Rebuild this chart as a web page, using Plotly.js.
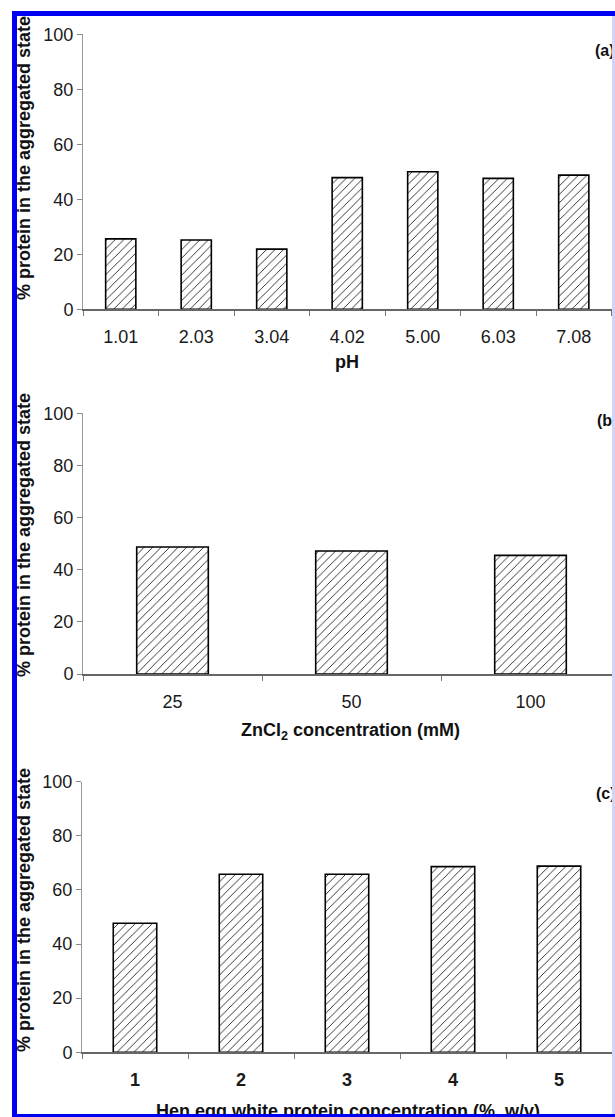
<!DOCTYPE html>
<html>
<head>
<meta charset="utf-8">
<script src="https://cdn.plot.ly/plotly-3.0.1.min.js"></script>
<style>
  html, body { margin: 0; padding: 0; background: #fff; }
  #wrap { position: relative; width: 615px; height: 1117px; overflow: hidden; }
  #chart { position: absolute; left: 0; top: 0; width: 615px; height: 1117px; }
  .bd { position: absolute; pointer-events: none; z-index: 10; }
</style>
</head>
<body>
<div id="wrap">
  <div id="chart"></div>
  <div class="bd" style="left:0;top:0;width:615px;height:11px;background:#fff;"></div>
  <div class="bd" style="left:0;top:0;width:12px;height:1117px;background:#fff;"></div>
  <div class="bd" style="left:12px;top:11px;width:603px;height:5px;background:#0000f0;"></div>
  <div class="bd" style="left:12px;top:11px;width:5px;height:1106px;background:#0000f0;"></div>
  <div class="bd" style="left:12px;top:1114px;width:603px;height:3px;background:#0000f0;"></div>
  <div class="bd" style="left:612px;top:16px;width:3px;height:1098px;background:#d4d4f6;"></div>
</div>
<script>
// ---- data ----
const phLabels = ["1.01", "2.03", "3.04", "4.02", "5.00", "6.03", "7.08"];
const phValues = [25.6, 25.2, 21.9, 47.9, 50.0, 47.6, 48.8];

const znLabels = ["25", "50", "100"];
const znValues = [48.7, 47.2, 45.5];

const hewLabels = ["1", "2", "3", "4", "5"];
const hewValues = [47.7, 65.8, 65.8, 68.6, 68.8];

const yTickVals = [0, 20, 40, 60, 80, 100];
const yTitle = "% protein in the aggregated state";

// ---- geometry helpers ----
const W = 615, H = 1117;
const px = x => x / W;
const py = y => 1 - y / H;

const pattern = { shape: "/", fgcolor: "#222", bgcolor: "#fff", size: 6, solidity: 0.15 };
function barTrace(labels, values, xa, ya, width) {
  return {
    type: "bar", x: labels, y: values, xaxis: xa, yaxis: ya, width: width,
    marker: { color: "#fff", pattern: pattern, line: { color: "#000", width: 1.6 } },
    hoverinfo: "x+y", showlegend: false
  };
}

const data = [
  barTrace(phLabels, phValues, "x", "y", 0.4),
  barTrace(znLabels, znValues, "x2", "y2", 0.4),
  barTrace(hewLabels, hewValues, "x3", "y3", 0.41)
];

const FAM = "Liberation Sans, Arial, sans-serif";
const font = { family: FAM, size: 18, color: "#222" };
function xAxis(domain, range, anchor, bold) {
  return {
    domain: domain, range: range, anchor: anchor, type: "category",
    showline: true, linecolor: "#666", linewidth: 1.5,
    ticks: "outside", tickson: "boundaries", ticklen: 5, tickcolor: "#777", tickwidth: 1,
    ticklabelstandoff: 11,
    showgrid: false, zeroline: false, fixedrange: true,
    tickfont: { family: FAM, size: 18, color: "#1a1a1a", weight: bold ? "bold" : "normal" }
  };
}
function yAxis(domain, anchor) {
  return {
    domain: domain, range: [0, 100], anchor: anchor,
    tickvals: yTickVals, ticktext: yTickVals.map(String),
    showline: true, linecolor: "#999", linewidth: 1,
    ticks: "outside", ticklen: 5, tickcolor: "#888", tickwidth: 1,
    showgrid: false, zeroline: false, fixedrange: true,
    tickfont: { family: FAM, size: 18, color: "#1a1a1a" }
  };
}

const note = (t, x, y, xanchor, size) => ({
  text: t, xref: "paper", yref: "paper", x: x, y: y, showarrow: false,
  xanchor: xanchor || "center", yanchor: "middle",
  font: { family: FAM, size: size || 18, color: "#111", weight: "bold" }
});

const annotations = [
  Object.assign(note(yTitle, px(24), py(158)), { textangle: -90 }),
  Object.assign(note(yTitle, px(24), py(535)), { textangle: -90 }),
  Object.assign(note(yTitle, px(24), py(910)), { textangle: -90 }),
  note("pH", px(347), py(362)),
  note("ZnCl<sub>2</sub> concentration (mM)", px(351), py(731)),
  note("Hen egg white protein concentration (%, w/v)", px(348), py(1111)),
  note("(a)", px(593), py(51), "left", 16),
  note("(b)", px(595), py(420.5), "left", 16),
  note("(c)", px(594), py(793), "left", 16)
];

const layout = {
  width: W, height: H,
  margin: { l: 0, r: 0, t: 0, b: 0 },
  paper_bgcolor: "#fff", plot_bgcolor: "rgba(0,0,0,0)",
  font: font,
  showlegend: false,
  xaxis: xAxis([px(83), px(611.5)], [-0.5, 6.5], "y", false),
  yaxis: yAxis([py(309.3), py(34.3)], "x"),
  xaxis2: xAxis([px(83), 1], [-0.5, -0.5 + (615 - 83) / 179], "y2", false),
  yaxis2: yAxis([py(674), py(413.3)], "x2"),
  xaxis3: xAxis([px(82), px(612)], [-0.5, 4.5], "y3", true),
  yaxis3: yAxis([py(1052.3), py(781.7)], "x3"),
  annotations: annotations
};

Plotly.newPlot("chart", data, layout, { displayModeBar: false, staticPlot: true });
</script>
</body>
</html>
